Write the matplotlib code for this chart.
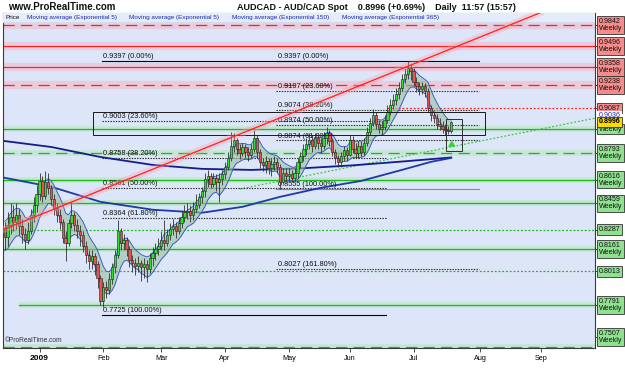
import numpy as np
import pandas as pd
import matplotlib
matplotlib.use("Agg")
import matplotlib.pyplot as plt
import matplotlib.transforms as mtrans
from matplotlib.patches import Rectangle

plt.rcParams['font.family'] = ['Liberation Sans', 'DejaVu Sans']

# ---------------- data ----------------
dates = pd.bdate_range("2008-12-16", "2009-07-20")
first_open = 0.830
close = [0.824, 0.832, 0.837, 0.834, 0.838, 0.831, 0.826, 0.822, 0.828, 0.838,
         0.845, 0.852, 0.861, 0.851, 0.860, 0.856, 0.849, 0.843, 0.838, 0.834,
         0.823, 0.820, 0.833, 0.838, 0.832, 0.828, 0.825, 0.818, 0.812, 0.808,
         0.811, 0.806, 0.797, 0.782, 0.791, 0.789, 0.796, 0.804, 0.812, 0.828,
         0.820, 0.822, 0.816, 0.809, 0.807, 0.805, 0.807, 0.804, 0.806, 0.803,
         0.810, 0.813, 0.816, 0.818, 0.822, 0.820, 0.825, 0.829, 0.831, 0.828,
         0.833, 0.837, 0.840, 0.841, 0.838, 0.842, 0.845, 0.850, 0.854, 0.862,
         0.864, 0.859, 0.863, 0.860, 0.862, 0.865, 0.870, 0.876, 0.884, 0.888,
         0.882, 0.879, 0.883, 0.880, 0.878, 0.882, 0.889, 0.880, 0.873, 0.871,
         0.874, 0.869, 0.872, 0.873, 0.870, 0.860, 0.866, 0.864, 0.865, 0.863,
         0.866, 0.873, 0.877, 0.882, 0.885, 0.888, 0.884, 0.889, 0.886, 0.884,
         0.889, 0.892, 0.887, 0.880, 0.876, 0.873, 0.877, 0.881, 0.878, 0.888,
         0.882, 0.879, 0.884, 0.880, 0.886, 0.893, 0.899, 0.904, 0.898, 0.895,
         0.896, 0.901, 0.906, 0.911, 0.914, 0.918, 0.922, 0.928, 0.931, 0.935,
         0.933, 0.926, 0.923, 0.921, 0.923, 0.920, 0.909, 0.904, 0.902, 0.898,
         0.897, 0.895, 0.894, 0.8935, 0.8996]
high = [0.834, 0.840, 0.846, 0.845, 0.846, 0.842, 0.836, 0.830, 0.834, 0.842,
        0.850, 0.858, 0.866, 0.864, 0.867, 0.866, 0.858, 0.852, 0.846, 0.842,
        0.836, 0.828, 0.836, 0.847, 0.840, 0.836, 0.832, 0.828, 0.821, 0.815,
        0.815, 0.813, 0.808, 0.799, 0.794, 0.795, 0.800, 0.807, 0.815, 0.835,
        0.830, 0.826, 0.824, 0.818, 0.812, 0.810, 0.811, 0.809, 0.810, 0.809,
        0.813, 0.817, 0.820, 0.823, 0.828, 0.835, 0.829, 0.833, 0.836, 0.834,
        0.837, 0.841, 0.845, 0.846, 0.845, 0.847, 0.852, 0.853, 0.857, 0.866,
        0.868, 0.866, 0.866, 0.865, 0.866, 0.868, 0.873, 0.880, 0.893, 0.892,
        0.889, 0.885, 0.886, 0.885, 0.883, 0.885, 0.894, 0.891, 0.882, 0.876,
        0.877, 0.876, 0.876, 0.877, 0.876, 0.872, 0.869, 0.869, 0.869, 0.868,
        0.869, 0.876, 0.880, 0.885, 0.889, 0.892, 0.891, 0.892, 0.891, 0.889,
        0.893, 0.896, 0.894, 0.889, 0.882, 0.878, 0.880, 0.884, 0.883, 0.891,
        0.890, 0.886, 0.887, 0.887, 0.889, 0.896, 0.902, 0.908, 0.906, 0.901,
        0.900, 0.904, 0.911, 0.915, 0.918, 0.922, 0.926, 0.931, 0.935, 0.9397,
        0.938, 0.935, 0.929, 0.926, 0.926, 0.925, 0.922, 0.911, 0.907, 0.905,
        0.902, 0.900, 0.898, 0.897, 0.9005]
low = [0.815, 0.818, 0.826, 0.828, 0.829, 0.825, 0.820, 0.816, 0.819, 0.826,
       0.834, 0.840, 0.848, 0.847, 0.849, 0.852, 0.845, 0.838, 0.834, 0.829,
       0.820, 0.808, 0.818, 0.830, 0.828, 0.823, 0.818, 0.814, 0.807, 0.803,
       0.803, 0.799, 0.790, 0.779, 0.7775, 0.784, 0.786, 0.793, 0.800, 0.810,
       0.815, 0.815, 0.811, 0.804, 0.801, 0.799, 0.801, 0.795, 0.797, 0.794,
       0.800, 0.805, 0.809, 0.812, 0.815, 0.815, 0.818, 0.822, 0.825, 0.823,
       0.826, 0.830, 0.834, 0.836, 0.834, 0.835, 0.840, 0.843, 0.846, 0.850,
       0.857, 0.856, 0.857, 0.854, 0.847, 0.858, 0.862, 0.868, 0.874, 0.880,
       0.878, 0.875, 0.877, 0.876, 0.874, 0.876, 0.880, 0.876, 0.869, 0.867,
       0.866, 0.865, 0.864, 0.868, 0.866, 0.8555, 0.859, 0.860, 0.861, 0.860,
       0.861, 0.863, 0.869, 0.874, 0.878, 0.882, 0.880, 0.882, 0.882, 0.879,
       0.882, 0.885, 0.884, 0.877, 0.872, 0.870, 0.870, 0.874, 0.874, 0.877,
       0.879, 0.876, 0.876, 0.877, 0.878, 0.884, 0.891, 0.897, 0.895, 0.892,
       0.891, 0.894, 0.899, 0.904, 0.908, 0.911, 0.915, 0.920, 0.925, 0.928,
       0.927, 0.923, 0.919, 0.917, 0.918, 0.916, 0.906, 0.900, 0.899, 0.895,
       0.894, 0.892, 0.891, 0.8915, 0.8925]

ema150_bars = [0, 16, 33, 51, 68, 82, 95, 109, 123, 137, 147, 154]
ema150_vals = [0.8628, 0.8569, 0.8470, 0.8418, 0.8398, 0.8437, 0.8503, 0.8562,
               0.8608, 0.8680, 0.8733, 0.8759]
ema365_bars = [0, 16, 33, 51, 68, 85, 102, 120, 137, 154]
ema365_vals = [0.8870, 0.8831, 0.8765, 0.8713, 0.8687, 0.8680, 0.8690, 0.8710,
               0.8735, 0.8762]

month_labels = ["2009", "Feb", "Mar", "Apr", "May", "Jun", "Jul", "Aug", "Sep"]

# horizontal support / resistance levels (weekly)
levels = [0.9842, 0.9496, 0.9358, 0.9238, 0.9087, 0.8949, 0.8793, 0.8616,
          0.8459, 0.8287, 0.8161, 0.8013, 0.7791, 0.7507]
level_texts = ["0.9842\nWeekly", "0.9496\nWeekly", "0.9358\nWeekly", "0.9238\nWeekly",
               "0.9087", "Weekly", "0.8793\nWeekly", "0.8616\nWeekly",
               "0.8459\nWeekly", "0.8287", "0.8161\nWeekly", "0.8013",
               "0.7791\nWeekly", "0.7507\nWeekly"]

fib1_values = [0.9397, 0.9003, 0.8758, 0.8561, 0.8364, 0.7725]
fib1_pcts = ["0.00%", "23.60%", "38.20%", "50.00%", "61.80%", "100.00%"]
fib2_values = [0.9397, 0.9197, 0.9074, 0.8974, 0.8874, 0.8555, 0.8027]
fib2_pcts = ["0.00%", "23.60%", "38.20%", "50.00%", "61.80%", "100.00%", "161.80%"]

red_trend_bars = [0, 184.5]
red_trend_prices = [0.8291, 0.9713]
green_trend_bars = [81, 204]
green_trend_prices = [0.8554, 0.9022]

last_price = 0.8996
ema5_last = 0.9036

# ---------------- figure ----------------
W, H = 625, 375
fig = plt.figure(figsize=(6.25, 3.75), dpi=100, facecolor="white")
ax = fig.add_axes([3 / W, 27 / H, 592 / W, 335 / H])
ax.set_facecolor("#dce6f8")
ymin, ymax = 0.75076, 0.9713
xmin, xmax = -0.6, 203.6
ax.set_xlim(xmin, xmax)
ax.set_ylim(ymin, ymax)

n = len(close)
idx = np.arange(n)
opens = np.array([first_open] + close[:-1])
closes = np.array(close)
highs = np.array(high)
lows = np.array(low)

# ---- horizontal level lines
styles = {"r-": ("#ff2020", "-"), "r--": ("#ff2020", (0, (9, 5))), "r:": ("#ff2020", (0, (1.5, 1.5))),
          "g-": ("#1fb51f", "-"), "g--": ("#1fb51f", (0, (9, 5))), "g:": ("#1fb51f", (0, (1.5, 1.5)))}
level_styles = ["r--", "r-", "r-", "r--", "r:", "g-", "g--", "g-", "g-", "g:", "g-", "g:", "g-", "g--"]
level_start = [xmin] * 4 + [131.7] + [xmin] * 7 + [5.0] + [xmin]
ydraw = np.clip(levels, ymin + 0.0006, ymax - 0.0079)
for lv, st, x0 in zip(ydraw, level_styles, level_start):
    col, ls = styles[st]
    if st in ("r-", "r--"):
        ax.plot([x0, xmax], [lv, lv], color="#ff9aa8", lw=6, alpha=0.35, solid_capstyle="butt", zorder=1)
    elif st in ("g-", "g--"):
        ax.plot([x0, xmax], [lv, lv], color="#a8e8a8", lw=4, alpha=0.45, solid_capstyle="butt", zorder=1)
    ax.plot([x0, xmax], [lv, lv], color=col, lw=0.9, linestyle=ls, zorder=2)

# ---- trend lines
ax.plot(red_trend_bars, red_trend_prices, color="#ff9aa8", lw=5, alpha=0.35, zorder=12)
ax.plot(red_trend_bars, red_trend_prices, color="#ff2020", lw=0.9, zorder=12)
ax.plot(green_trend_bars, green_trend_prices, color="#3cc83c", lw=0.9,
        linestyle=(0, (1.5, 1.5)), zorder=3)

# ---- fibonacci retracements
def draw_fib(values, pcts, x0, x1, solid_col):
    for v, p in zip(values, pcts):
        if p in ("0.00%", "100.00%"):
            c = solid_col if p == "100.00%" else "black"
            ax.plot([x0, x1], [v, v], color=c, lw=0.8, zorder=4)
        else:
            ax.plot([x0, x1], [v, v], color="#222222", lw=0.8, linestyle=(0, (1.2, 1.2)), zorder=4)
        ax.text(x0 + 0.6, v + 0.0006, f"{v:.4f} ({p})", fontsize=5.3, color="#111111",
                ha="left", va="bottom", zorder=6)

draw_fib(fib1_values, fib1_pcts, 33.4, 131.6, "black")
draw_fib(fib2_values, fib2_pcts, 93.7, 163.7, "#8a8a8a")

# ---- EMA 150 / 365
ax.plot(ema365_bars, ema365_vals, color="#141c8a", lw=1.3, zorder=5)
ax.plot(ema150_bars, ema150_vals, color="#1c3aa8", lw=1.3, zorder=5)

# ---- EMA5 band of highs/lows
ema_hi = pd.Series(highs).ewm(span=5, adjust=False).mean().values
ema_lo = pd.Series(lows).ewm(span=5, adjust=False).mean().values
ax.fill_between(idx, ema_lo, ema_hi, color="#98bfa0", alpha=0.6, lw=0, zorder=5)
ax.plot(idx, ema_hi, color="#3050c8", lw=0.6, zorder=6)
ax.plot(idx, ema_lo, color="#3050c8", lw=0.6, zorder=6)

# ---- candlesticks
up = closes >= opens
ax.vlines(idx, lows, highs, color="#303030", lw=0.6, zorder=7)
body_bot = np.minimum(opens, closes)
body_h = np.maximum(np.abs(closes - opens), 0.0004)
ax.bar(idx, body_h, bottom=body_bot, width=0.8,
       color=np.where(up, "#2fe02f", "#ec4f4f"), edgecolor="#202020", lw=0.4, zorder=8)

# ---- rectangles & arrow
ax.add_patch(Rectangle((30.6, 0.8910), 135.2, 0.0151, fill=False, ec="#1a1a1a", lw=0.7, zorder=9))
ax.add_patch(Rectangle((152.3, 0.8805), 5.5, 0.0210, fill=False, ec="#303030", lw=0.7, zorder=9))
ax.annotate("", xy=(154.2, 0.8892), xytext=(154.2, 0.8822),
            arrowprops=dict(arrowstyle="simple,head_width=0.55,head_length=0.45,tail_width=0.25",
                            color="#22dd22", lw=0), zorder=10)

# ---- legend band
ax.add_patch(Rectangle((0, 0.973), 1, 0.027, transform=ax.transAxes, color="#e4ecfc", zorder=11))
ax.plot([0, 1], [0.973, 0.973], transform=ax.transAxes, color="#c8d4ec", lw=0.5, zorder=11)
band = [("Price", 0.004, "#111111"),
        ("Moving average (Exponential 5)", 0.041, "#1a2ab0"),
        ("Moving average (Exponential 5)", 0.213, "#1a2ab0"),
        ("Moving average (Exponential 150)", 0.386, "#1a2ab0"),
        ("Moving average (Exponential 365)", 0.573, "#1a2ab0")]
for t, xx, c in band:
    ax.text(xx, 0.9865, t, transform=ax.transAxes, fontsize=4.6, color=c,
            ha="left", va="center", zorder=12)

ax.text(0.004, 0.012, "\u00a9ProRealTime.com", transform=ax.transAxes, fontsize=4.8,
        color="#333333", ha="left", va="bottom", zorder=12)

# ---- x axis
all_days = pd.bdate_range("2008-12-16", "2009-09-30")
month_starts = [i for i in range(1, len(all_days)) if all_days[i].month != all_days[i - 1].month]
ax.set_xticks(month_starts[:len(month_labels)])
ax.set_xticklabels(month_labels, fontsize=5.2)
ax.get_xticklabels()[0].set_fontweight("bold")
ax.get_xticklabels()[0].set_fontsize(6)
ax.tick_params(axis="x", length=3, width=0.6, pad=2, color="#333333")

# ---- right price labels
ax.set_yticks([])
lab_tr = mtrans.blended_transform_factory(ax.transAxes, ax.transData)
label_pos = np.clip(levels, ymin + 0.0073, ymax - 0.0079)
for lv, txt, st in zip(label_pos, level_texts, level_styles):
    fc = "#f58b8b" if st.startswith("r") else "#8fe08f"
    ax.text(1.006, lv, txt, transform=lab_tr, fontsize=5.1, ha="left", va="center",
            linespacing=1.0, color="#111111", clip_on=False, zorder=13,
            bbox=dict(boxstyle="square,pad=0.25", fc=fc, ec="#333333", lw=0.6))
    ax.plot([1.0, 1.004], [lv, lv], transform=lab_tr, color="#222222", lw=0.6, clip_on=False)
ax.text(1.006, ema5_last, f"{ema5_last:.4f}", transform=lab_tr, fontsize=5.1, ha="left",
        va="center", color="#1a2ab0", clip_on=False, zorder=13,
        bbox=dict(boxstyle="square,pad=0.2", fc="white", ec="none"))
ax.text(1.006, last_price, f"{last_price:.4f}", transform=lab_tr, fontsize=5.1, ha="left",
        va="center", color="#000000", fontweight="bold", clip_on=False, zorder=14,
        bbox=dict(boxstyle="square,pad=0.25", fc="#ffd800", ec="#333333", lw=0.6))

for s in ax.spines.values():
    s.set_color("#3a3a3a")
    s.set_linewidth(0.8)

# ---- title
fig.text(8 / W, 1 - 7 / H, "www.ProRealTime.com", fontsize=7, fontweight="bold",
         color="#111111", ha="left", va="center")
fig.text(237 / W, 1 - 7 / H, "AUDCAD - AUD/CAD Spot    0.8996 (+0.69%)    Daily  11:57 (15:57)",
         fontsize=6.5, fontweight="bold", color="#111111", ha="left", va="center")

fig.savefig("out.png", dpi=100, facecolor="white")
